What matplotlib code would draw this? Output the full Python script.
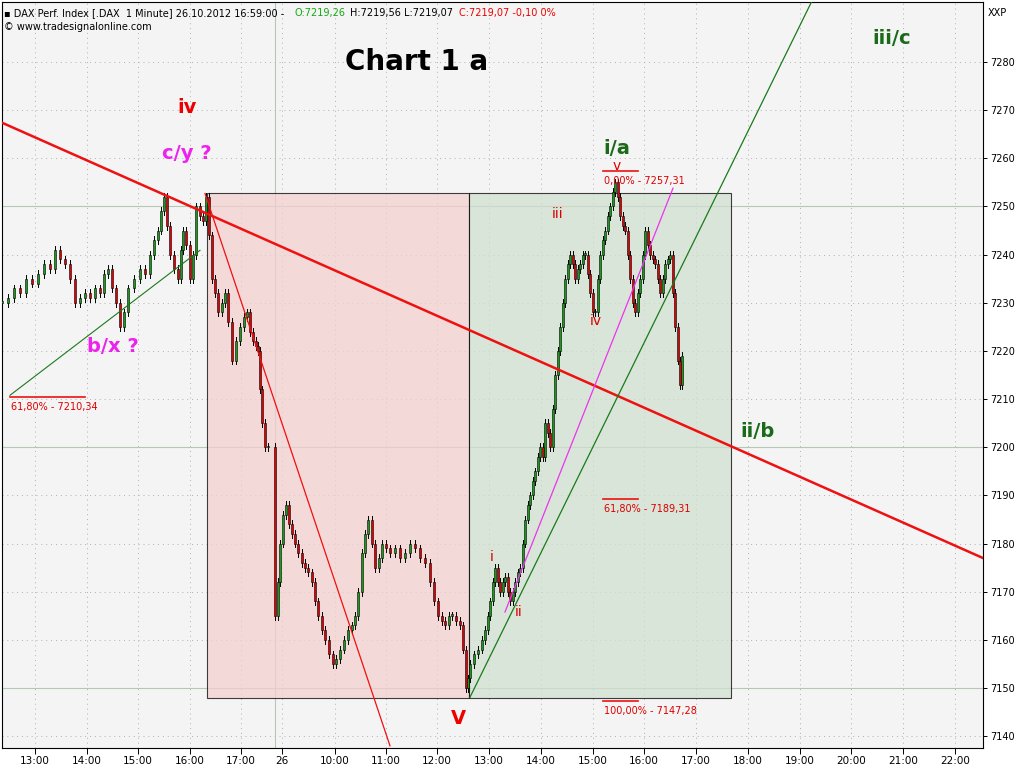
import matplotlib
matplotlib.use("Agg")
import matplotlib.pyplot as plt
from matplotlib.patches import Rectangle

# x positions in chart units (one hour = 51.7 units), prices in index points
bar_x = [2,8,14,20,26,32,38,44,50,55,60,65,70,75,80,85,90,95,100,104,108,112,116,120,124,128,134,140,145,150,154,158,161,164,167,170,174,178,181,183,186,190,193,196,200,203,206,209,212,215,218,222,225,228,232,236,240,244,247,250,253,256,258,260,262,265,268,
         275,278,280,283,286,289,292,295,298,302,305,308,312,315,318,322,325,329,333,336,340,344,348,352,355,358,362,365,368,372,375,379,382,386,390,395,400,405,410,415,420,425,430,434,438,442,445,449,452,456,460,463,466,468,470,474,478,482,485,488,490,493,495,498,500,503,505,508,510,513,515,518,520,523,525,528,530,533,535,538,540,543,545,548,550,553,555,558,560,563,565,568,570,573,575,578,580,583,585,588,590,593,595,598,600,603,605,608,610,613,615,618,620,623,625,628,630,633,635,638,640,643,645,648,650,653,655,658,660,663,665,668,670,673,675,678,680,682]
close = [7230,7231,7233,7232,7235,7234,7236,7238,7237,7241,7239,7238,7235,7230,7231,7232,7231,7233,7232,7236,7237,7233,7230,7225,7228,7233,7235,7237,7236,7240,7243,7245,7249,7252,7246,7240,7237,7235,7241,7245,7242,7235,7240,7250,7248,7247,7252,7244,7235,7232,7228,7230,7232,7226,7218,7222,7225,7227,7228,7224,7222,7221,7220,7212,7205,7200,7200,
         7165,7172,7180,7186,7188,7184,7182,7180,7178,7176,7175,7174,7172,7168,7165,7162,7160,7157,7155,7156,7158,7160,7162,7163,7165,7170,7178,7182,7185,7180,7175,7177,7180,7179,7178,7179,7177,7178,7180,7179,7177,7176,7172,7168,7165,7164,7163,7165,7165,7164,7163,7158,7150,7152,7155,7157,7158,7160,7162,7165,7168,7172,7175,7172,7170,7172,7173,7170,7168,7170,7172,7174,7175,7180,7185,7188,7190,7193,7195,7198,7200,7198,7205,7203,7200,7208,7215,7220,7225,7230,7235,7238,7240,7238,7235,7237,7238,7240,7240,7236,7232,7228,7228,7235,7240,7243,7245,7248,7250,7253,7255,7252,7248,7246,7245,7240,7235,7230,7228,7232,7235,7240,7245,7242,7240,7239,7238,7235,7232,7235,7238,7239,7240,7232,7225,7218,7213,7219]

hour_pos = [35,87,138,190,241,282,335,386,437,489,541,593,644,696,748,800,851,903,955]
hour_lbl = ["13:00","14:00","15:00","16:00","17:00","26","10:00","11:00","12:00","13:00","14:00","15:00","16:00","17:00","18:00","19:00","20:00","21:00","22:00"]
y_ticks = list(range(7140, 7290, 10))

fig = plt.figure(figsize=(10.24, 7.68), dpi=100)
fig.patch.set_facecolor("white")
ax = fig.add_axes([2/1024, 0.026, 981/1024, 0.971])
ax.set_facecolor("#f4f4f4")
ax.set_xlim(2, 983)
ax.set_ylim(7137.55, 7292.4)

for p in hour_pos:
    ax.axvline(p, color="#b0b0b0", lw=0.7, ls=(0, (1, 4)), zorder=0)
for t in y_ticks:
    ax.axhline(t, color="#b0b0b0", lw=0.7, ls=(0, (1, 4)), zorder=0)
for t in (7150, 7200, 7250):
    ax.axhline(t, color="#b5c8b5", lw=0.8, zorder=0)
ax.axvline(275, color="#b5c8b5", lw=0.8, zorder=0)

# zones
ax.add_patch(Rectangle((207, 7147.9), 262, 104.8, facecolor="#f5d0d0", edgecolor="black", lw=0.8, alpha=0.75, zorder=1))
ax.add_patch(Rectangle((469, 7147.9), 262, 104.8, facecolor="#cfe0cf", edgecolor="black", lw=0.8, alpha=0.75, zorder=1))

# candles
prev = close[0]
for x, c in zip(bar_x, close):
    o = prev
    hi, lo = max(o, c) + 0.8, min(o, c) - 0.8
    ax.plot([x, x], [lo, hi], color="black", lw=0.7, zorder=3)
    col = "#1a9a1a" if c >= o else "#e00000"
    b = max(abs(c - o), 0.3)
    ax.add_patch(Rectangle((x - 1.3, min(o, c)), 2.6, b, facecolor=col, edgecolor="black", lw=0.4, zorder=4))
    prev = c

# trend lines
ax.plot([2, 983], [7267.4, 7177.0], color="#ee1111", lw=1.8, zorder=5)
ax.plot([205, 390], [7252.7, 7138.0], color="#ee1111", lw=0.9, zorder=5)
ax.plot([10, 200], [7210.8, 7240.9], color="#1a7a1a", lw=0.8, zorder=5)
ax.plot([470, 812], [7148.1, 7292.7], color="#1a7a1a", lw=0.9, zorder=5)
ax.plot([505, 673], [7165.8, 7253.8], color="#ee33ee", lw=0.9, zorder=5)

# fib levels
fibs = [(10, 85, 7210.34, "61,80% - 7210,34"), (603, 638, 7257.31, "0,00% - 7257,31"),
        (603, 638, 7189.31, "61,80% - 7189,31"), (603, 638, 7147.28, "100,00% - 7147,28")]
for x0, x1, v, s in fibs:
    ax.plot([x0, x1], [v, v], color="#ee1111", lw=1.2, zorder=6)
    ax.text(x0 + 1, v - 1.0, s, color="#dd0000", fontsize=7, va="top", ha="left", zorder=6)

def lab(x, y, s, c, fs, bold=True):
    ax.text(x, y, s, color=c, fontsize=fs, ha="center", va="center",
            fontweight="bold" if bold else "normal", zorder=7)

lab(417, 7280.0, "Chart 1 a", "black", 20)
lab(187, 7270.5, "iv", "#ee0000", 14)
lab(187, 7261.0, "c/y ?", "#ee22ee", 14)
lab(113, 7221.0, "b/x ?", "#ee22ee", 14)
lab(458, 7143.6, "V", "#ee0000", 14)
lab(617, 7262.0, "i/a", "#1a6a1a", 14)
lab(617, 7258.5, "v", "#dd0000", 10, False)
lab(558, 7248.5, "iii", "#dd0000", 10, False)
lab(596, 7226.3, "iv", "#dd0000", 10, False)
lab(492, 7177.3, "i", "#dd0000", 10, False)
lab(519, 7165.8, "ii", "#dd0000", 10, False)
lab(757, 7203.3, "ii/b", "#1a6a1a", 14)
lab(892, 7284.8, "iii/c", "#1a6a1a", 14)

ax.yaxis.tick_right()
ax.set_yticks(y_ticks)
ax.set_yticklabels([str(t) for t in y_ticks], fontsize=7)
ax.set_xticks(hour_pos)
ax.set_xticklabels(hour_lbl, fontsize=7.5)
ax.tick_params(axis="y", length=3, width=0.7, pad=2)
ax.tick_params(axis="x", length=4, width=0.7, pad=2)
for s in ax.spines.values():
    s.set_linewidth(0.8)

hf = 7
fig.text(0.004, 0.99, "▪ DAX Perf. Index [.DAX  1 Minute] 26.10.2012 16:59:00 -", fontsize=hf, va="top")
fig.text(0.288, 0.99, "O:7219,26", color="#11aa11", fontsize=hf, va="top")
fig.text(0.342, 0.99, "H:7219,56 L:7219,07", fontsize=hf, va="top")
fig.text(0.448, 0.99, "C:7219,07 -0,10 0%", color="#ee0000", fontsize=hf, va="top")
fig.text(0.004, 0.972, "© www.tradesignalonline.com", fontsize=hf, va="top")
fig.text(0.965, 0.99, "XXP", fontsize=hf, va="top")

fig.savefig("out.png", dpi=100)
